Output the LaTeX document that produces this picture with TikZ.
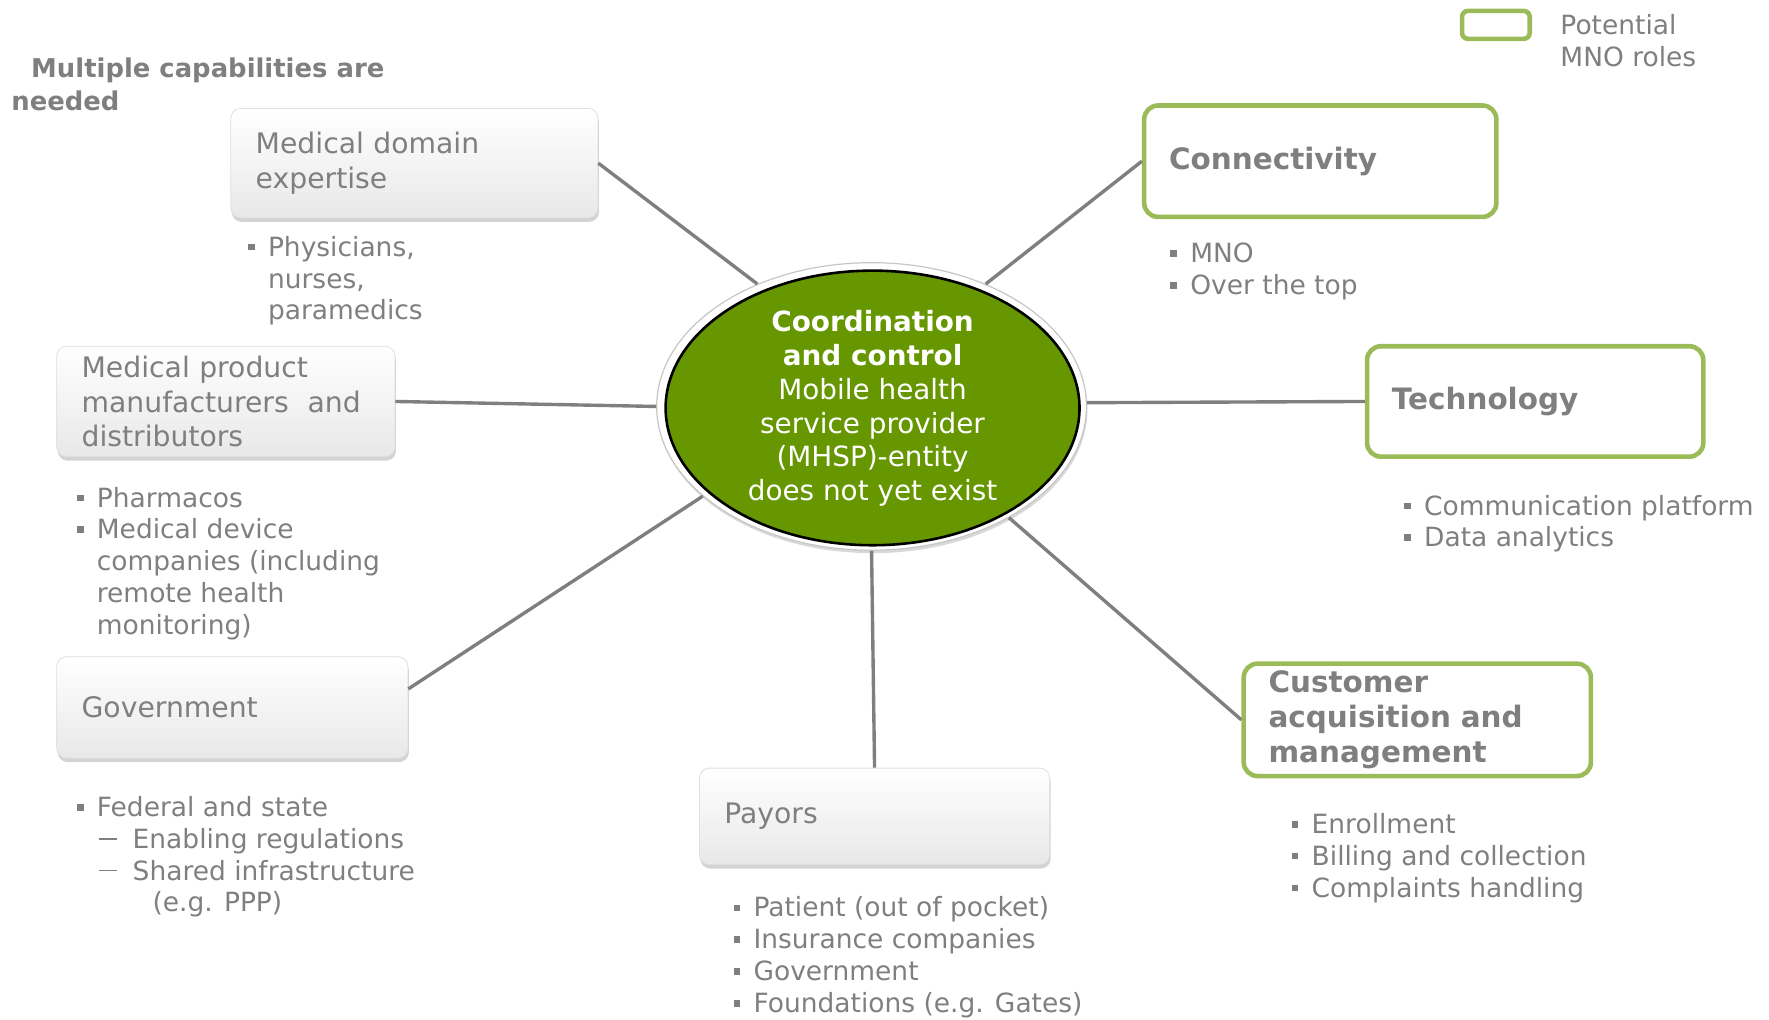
\documentclass[tikz,border=0pt]{standalone}
\usepackage{fontspec}
\setmainfont{DejaVu Sans}
\usepackage{tikz}
\usetikzlibrary{shapes,shadows,calc}
\definecolor{txtgray}{RGB}{127,127,127}
\definecolor{mnogreen}{RGB}{155,187,89}
\definecolor{hubgreen}{RGB}{102,150,0}
\newcommand{\boxfont}{\fontsize{14.2}{17.3}\selectfont}
\newcommand{\mnofont}{\fontsize{14.8}{17.6}\selectfont\bfseries}
\newcommand{\listfont}{\fontsize{13.3}{16}\selectfont}
\newcommand{\bul}{\makebox[10pt][l]{\raisebox{0.22em}{\rule{3.3pt}{3.3pt}}}}
\newcommand{\cont}{\hspace*{10pt}}
\newcommand{\subdash}{\hspace*{11pt}\makebox[17pt][l]{\raisebox{0.33em}{\rule{9pt}{0.8pt}}}}

\tikzset{
  capbox/.style={rectangle, rounded corners=5pt, draw=gray!25, top color=white, bottom color=gray!18,
    drop shadow={shadow xshift=0.5pt, shadow yshift=-2pt, opacity=0.35},
    text=txtgray, align=left, inner xsep=12.5pt, inner ysep=0pt, font=\boxfont},
  mnobox/.style={rectangle, rounded corners=7pt, draw=mnogreen, line width=2.3pt, fill=white,
    text=txtgray, align=left, inner xsep=12.5pt, inner ysep=0pt, font=\mnofont},
  blist/.style={anchor=north west, inner sep=0pt, align=left, text=txtgray, font=\listfont},
  link/.style={draw=txtgray, line width=1.7pt},
}

\begin{document}
\begin{tikzpicture}[x=0.5pt,y=-0.5pt]
\useasboundingbox (0,0) rectangle (1778,1024.2);

% centre
\node[ellipse, minimum width=216pt, minimum height=144.5pt, fill=white, draw=gray!45, line width=0.6pt,
  drop shadow={shadow xshift=0.5pt, shadow yshift=-1.5pt, opacity=0.3}] (hub) at (876,408.5) {};
\node[ellipse, minimum width=208pt, minimum height=138pt, fill=hubgreen, draw=black, line width=1.3pt] (core) at (877,410) {};
\node[align=center, text=white, font=\fontsize{14}{17}\selectfont] (hubtext) at (877,410.5)
  {\textbf{Coordination}\\\textbf{and control}\\Mobile health\\service provider\\(MHSP)-entity\\does not yet exist};

% capability boxes
\node[capbox, text width=159.5pt, minimum height=55pt] (mde) at (416.5,164) {Medical domain\\expertise};
\node[capbox, text width=145pt, minimum height=55.5pt] (mpm) at (227,403.5) {Medical product\\manufacturers~ and\\distributors};
\node[capbox, text width=151.5pt, minimum height=51pt] (gov) at (233.5,711) {Government};
\node[capbox, text width=151pt, minimum height=48.5pt] (pay) at (879,820.5) {Payors};
\node[mnobox, text width=152pt, minimum height=56pt] (con) at (1327,162) {Connectivity};
\node[mnobox, text width=144pt, minimum height=55.5pt] (tec) at (1543,403.5) {Technology};
\node[mnobox, text width=149.5pt, minimum height=56.5pt] (cus) at (1424.5,723.5) {Customer\\acquisition and\\management};

% connectors
\draw[link] (mde.east) -- (hub.133.5);
\draw[link] (mpm.east) -- (hub.west);
\draw[link] (gov.6) -- (hub.208.4);
\draw[link] (pay.north) -- (hub.south);
\draw[link] (con.west) -- (hub.47.7);
\draw[link] (tec.west) -- (hub.1);
\draw[link] (cus.west) -- (hub.321.8);

% bullet lists
\node[blist] (mdelist) at (249,237) {\bul Physicians,\\\cont nurses,\\\cont paramedics};
\node[blist] (mpmlist) at (77,489) {\bul Pharmacos\\\bul Medical device\\\cont companies (including\\\cont remote health\\\cont monitoring)};
\node[blist] (govlist) at (77,800) {\bul Federal and state\\\subdash Enabling regulations\\\subdash Shared infrastructure\\\hspace*{38pt}(e.g. PPP)};
\node[blist] (paylist) at (737,901) {\bul Patient (out of pocket)\\\bul Insurance companies\\\bul Government\\\bul Foundations (e.g. Gates)};
\node[blist] (conlist) at (1176,244) {\bul MNO\\\bul Over the top};
\node[blist] (teclist) at (1411,497) {\bul Communication platform\\\bul Data analytics};
\node[blist] (cuslist) at (1298,817) {\bul Enrollment\\\bul Billing and collection\\\bul Complaints handling};

% title and legend
\node[anchor=west, inner sep=0pt, align=left, text=txtgray, font=\fontsize{13}{16.5}\selectfont\bfseries] (title) at (11,84.5)
  {\hspace*{10pt}Multiple capabilities are\\needed};
\node[rectangle, rounded corners=3pt, draw=mnogreen, line width=2.3pt, minimum width=34pt, minimum height=14pt] (legbox) at (1503.5,25) {};
\node[anchor=west, inner sep=0pt, align=left, text=txtgray, font=\listfont] (legtext) at (1568,41) {Potential\\MNO roles};
\end{tikzpicture}
\end{document}
